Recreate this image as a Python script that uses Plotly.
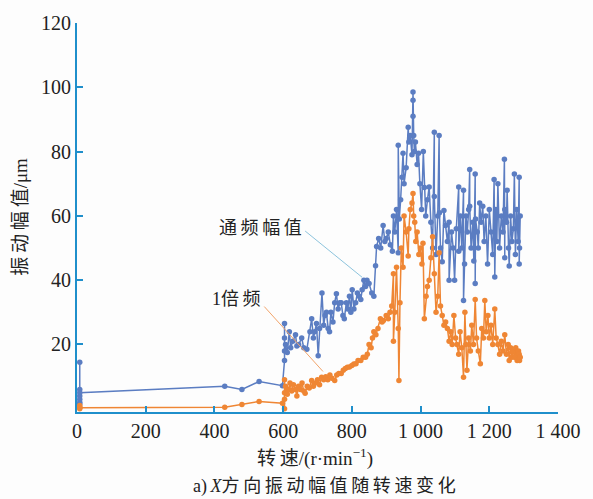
import plotly.graph_objects as go

# 通频幅值 (overall amplitude), blue series: speed (r/min) and amplitude (μm)
blue_x = [8, 8, 8, 8, 8, 8, 8, 430, 480, 530, 598, 604, 604, 604, 604, 607, 612, 618, 622, 628,
          636, 640, 645, 654, 660, 669, 678, 683, 688, 692, 697, 702, 706, 713, 718, 722, 726, 731,
          735, 739, 745, 750, 755, 760, 765, 769, 774, 778, 784, 788, 793, 797, 801, 806, 811, 816,
          821, 826, 830, 835, 840, 844, 850, 858, 864, 869, 872, 878, 884, 891, 896, 900, 906, 912,
          918, 921, 925, 930, 935, 935, 938, 942, 946, 949, 952, 958, 964, 966, 970, 975, 978, 978,
          978, 980, 982, 985, 990, 994, 998, 1003, 1008, 1011, 1015, 1020, 1025, 1030, 1035, 1040,
          1040, 1045, 1050, 1054, 1055, 1058, 1063, 1068, 1073, 1078, 1083, 1083, 1090, 1095, 1099,
          1104, 1111, 1111, 1116, 1120, 1125, 1125, 1128, 1132, 1136, 1140, 1143, 1143, 1147, 1152,
          1155, 1159, 1159, 1160, 1165, 1168, 1172, 1176, 1181, 1185, 1190, 1195, 1200, 1205, 1210,
          1214, 1216, 1219, 1222, 1225, 1230, 1235, 1240, 1244, 1245, 1245, 1250, 1252, 1256, 1258,
          1262, 1266, 1270, 1273, 1276, 1280, 1284, 1287, 1287, 1290, 1288]
blue_y = [2, 4, 14.5, 3, 6, 1.5, 5, 7, 6, 8.5, 7.2, 15, 22, 26.5, 18, 20, 17.5, 24, 19, 21,
          23, 19.5, 20, 22, 19, 18.5, 24, 28, 22, 24, 26.5, 16.5, 25, 36, 26, 29, 30, 25,
          24, 30, 27, 33, 35.8, 31, 33, 33, 29, 28, 33, 31, 35, 30, 37, 31, 33, 36,
          35, 34, 37, 40, 38, 40, 39, 36, 35, 44.5, 50.5, 53, 50, 57, 52, 53, 55, 51,
          49, 60, 55, 62, 48.5, 82, 59, 65, 72, 79.5, 70, 75, 87.6, 83, 85, 79, 98.5, 96,
          91, 85, 80, 83, 76, 79.5, 70, 62, 80, 68.8, 60, 65, 69, 58, 50, 86,
          66, 48, 60, 85, 61, 50, 45.7, 61.7, 57, 52, 58, 40, 55, 50, 40,
          56, 69, 49, 60, 50, 68, 33.7, 45, 60, 55, 62, 74.4, 63, 50, 58,
          46, 73, 39, 59, 55, 50, 64, 58, 63, 52, 60, 45, 62, 55, 48,
          71.3, 41, 62, 52, 70, 50, 60, 55, 77.6, 47, 62, 58, 68, 50, 44.4,
          60, 52, 56, 73, 48, 62, 52, 72, 45, 60, 50]

# 1倍频 (1x frequency component), orange series
orange_x = [8, 8, 8, 8, 430, 480, 530, 598, 604, 604, 604, 604, 607, 612, 616, 620, 625, 630,
            636, 640, 645, 650, 655, 660, 664, 670, 676, 683, 688, 694, 700, 706, 712, 718, 724,
            730, 736, 742, 750, 756, 762, 769, 775, 781, 787, 793, 800, 806, 812, 818, 826, 833,
            840, 845, 850, 856, 860, 864, 870, 876, 883, 888, 892, 900, 906, 911, 916, 921, 921,
            925, 930, 935, 937, 940, 944, 949, 952, 958, 964, 966, 970, 975, 978, 980, 983, 986,
            990, 995, 1000, 1004, 1007, 1011, 1016, 1020, 1025, 1030, 1035, 1040, 1045, 1050, 1054,
            1058, 1063, 1068, 1073, 1078, 1083, 1088, 1092, 1097, 1102, 1106, 1111, 1115, 1120,
            1125, 1129, 1132, 1135, 1140, 1145, 1149, 1154, 1159, 1163, 1168, 1174, 1178, 1183,
            1187, 1191, 1196, 1200, 1205, 1210, 1216, 1220, 1225, 1230, 1235, 1240, 1245, 1250,
            1255, 1258, 1262, 1266, 1270, 1274, 1277, 1281, 1285, 1287, 1288, 1290]
orange_y = [0, 0.5, 1, 0.3, 0.5, 1.3, 2.3, 1.7, 0, 3, 9, 5, 7, 4.5, 6, 8, 5.5, 7.5,
            6, 4, 7, 6, 8, 5.5, 4.8, 7, 6.5, 8.8, 7, 8, 9, 7.5, 9.8, 9, 10,
            9, 10.5, 9.5, 8.8, 10.5, 11, 11, 12, 12.5, 12.9, 13, 13.5, 13.9, 14, 15, 15, 16,
            16, 17, 20, 19, 22, 24, 23, 25, 28, 27, 27.5, 29, 28, 30, 32, 42, 21,
            30, 44, 25, 8.8, 33, 50, 44, 60, 55, 47.5, 56, 62, 64, 67, 60, 58, 52,
            55, 48, 50, 45, 51.5, 28, 35, 38, 40, 47, 53.5, 42, 30, 35, 48.5,
            32, 29, 26, 27, 25, 21, 24, 20, 29, 22, 20, 17, 24, 19,
            9.8, 30, 20, 12, 22, 18, 26, 20, 34, 22, 18, 14, 25, 22,
            33.7, 24, 29, 22, 26, 20, 31, 22, 20, 17, 21, 18, 23, 17,
            20, 15, 19, 16, 18, 16, 19, 15, 18, 17, 15, 16]

x_tick_vals = [0, 200, 400, 600, 800, 1000, 1200, 1400]
x_tick_text = ["0", "200", "400", "600", "800", "1 000", "1 200", "1 400"]
y_tick_vals = [20, 40, 60, 80, 100, 120]

BLUE = "#5b7dc2"
ORANGE = "#ef8634"
AXIS = "#1f8fcb"
SERIF = "Liberation Serif, Times New Roman, serif"
CJK = "Noto Sans CJK SC"
MIX = "Liberation Serif, Noto Sans CJK SC"
TS = "\u2009"

fig = go.Figure()
fig.add_trace(go.Scatter(x=blue_x, y=blue_y, mode="lines+markers", name="通频幅值",
                         line=dict(color=BLUE, width=1.5), marker=dict(color=BLUE, size=5.5)))
fig.add_trace(go.Scatter(x=orange_x, y=orange_y, mode="lines+markers", name="1倍频",
                         line=dict(color=ORANGE, width=1.5), marker=dict(color=ORANGE, size=5.5)))

# leader lines for labels
fig.add_shape(type="line", x0=664, y0=55.3, x1=830, y1=40.9, xref="x", yref="y",
              line=dict(color="#8cc3dc", width=1))
fig.add_shape(type="line", x0=545, y0=31.8, x1=716, y1=11.6, xref="x", yref="y",
              line=dict(color="#f2a46a", width=1))

fig.add_annotation(x=533, y=56.8, xref="x", yref="y", text=TS.join("通频幅值"), showarrow=False,
                   xanchor="center", yanchor="middle",
                   font=dict(family=CJK, size=18, color="#222"))
fig.add_annotation(x=465, y=34.2, xref="x", yref="y", text="1倍" + TS + "频", showarrow=False,
                   xanchor="center", yanchor="middle",
                   font=dict(family=MIX, size=18, color="#222"))

fig.add_annotation(x=-0.118, y=0.5025, xref="paper", yref="paper",
                   text=TS.join("振动幅值") + "/μm",
                   textangle=-90, showarrow=False, xanchor="center", yanchor="middle",
                   font=dict(family=MIX, size=19, color="#222"))
fig.add_annotation(x=0.495, y=-0.116, xref="paper", yref="paper",
                   text="转" + TS + "速/(r·min<sup>−1</sup>)", showarrow=False,
                   xanchor="center", yanchor="middle",
                   font=dict(family=MIX, size=19, color="#222"))
fig.add_annotation(x=0.515, y=-0.192, xref="paper", yref="paper",
                   text="a)" + TS + "<i>X</i>" + TS.join("方向振动幅值随转速变化"), showarrow=False,
                   xanchor="center", yanchor="middle",
                   font=dict(family=MIX, size=18, color="#222"))

fig.update_layout(
    width=593, height=499,
    margin=dict(l=77, r=25, t=16, b=87),
    paper_bgcolor="#fdfdfd", plot_bgcolor="#fdfdfd",
    showlegend=False,
    xaxis=dict(range=[0, 1400], tickvals=x_tick_vals, ticktext=x_tick_text,
               showgrid=False, zeroline=False, showline=True, linecolor=AXIS, linewidth=2,
               ticks="inside", ticklen=6, tickcolor=AXIS, tickwidth=2,
               tickfont=dict(family=SERIF, size=20, color="#222")),
    yaxis=dict(range=[-1, 120], tickvals=y_tick_vals,
               showgrid=False, zeroline=False, showline=True, linecolor=AXIS, linewidth=2,
               ticks="inside", ticklen=6, tickcolor=AXIS, tickwidth=2,
               tickfont=dict(family=SERIF, size=20, color="#222")),
)

fig.write_html("out.html")
